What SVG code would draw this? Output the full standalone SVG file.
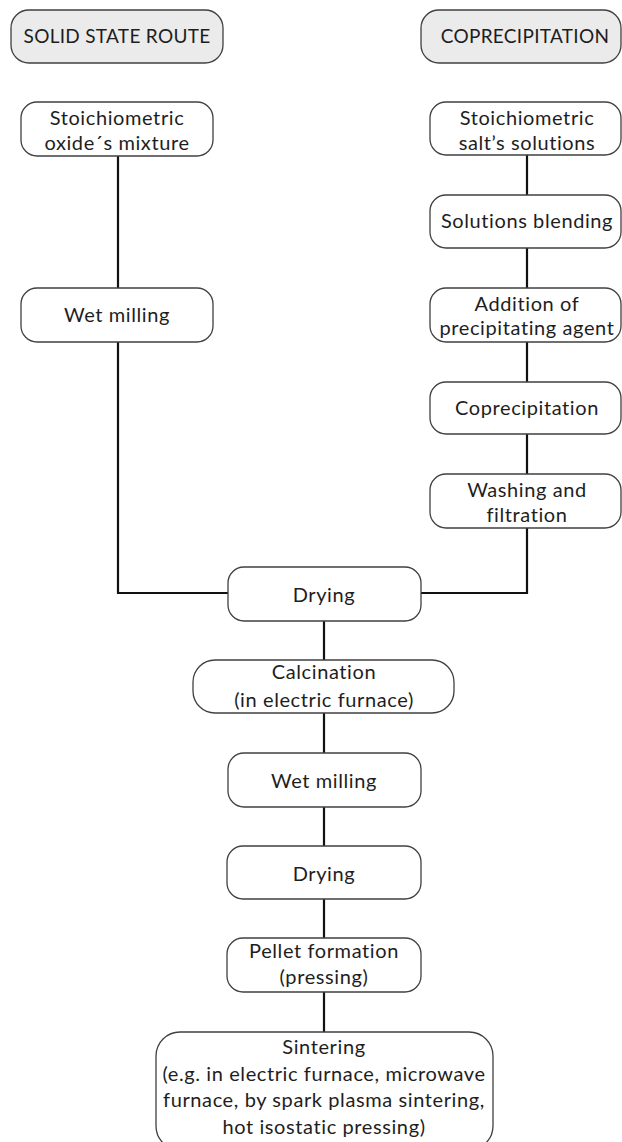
<svg xmlns="http://www.w3.org/2000/svg" width="622" height="1142" viewBox="0 0 622 1142">
<style>
.box{fill:#ffffff;stroke:#404040;stroke-width:1.3}
.hdr{fill:#ebebeb;stroke:#404040;stroke-width:1.3}
.t{font-family:Lato,"Open Sans","Liberation Sans",sans-serif;font-size:20px;letter-spacing:0.6px;fill:#1e1e1e;text-anchor:middle}
.h{font-size:19px;letter-spacing:0.3px}
.c{fill:none;stroke:#111;stroke-width:2.2}
</style>
<rect width="622" height="1142" fill="#ffffff"/>
<g id="connectors">
<path class="c" d="M118 156V288M118 342V593H228"/>
<path class="c" d="M527 155V195M527 248V288M527 342V382M527 434V474M527 528V593H421"/>
<path class="c" d="M324 621V660M324 713V753M324 807V846M324 899V938M324 992V1032"/>
</g>
<g id="hdr-solid"><rect class="hdr" x="11" y="10" width="212" height="53" rx="18"/><text class="t h" x="117" y="43">SOLID STATE ROUTE</text></g>
<g id="hdr-coprec"><rect class="hdr" x="421" y="10" width="200" height="53" rx="18"/><text class="t h" x="525" y="43">COPRECIPITATION</text></g>
<g id="oxide-mix"><rect class="box" x="21" y="102" width="192" height="54" rx="16"/><text class="t" x="117" y="125">Stoichiometric</text><text class="t" x="117" y="150">oxide´s mixture</text></g>
<g id="wet-milling-1"><rect class="box" x="21" y="288" width="192" height="54" rx="16"/><text class="t" x="117" y="322">Wet milling</text></g>
<g id="salt-sol"><rect class="box" x="430" y="102" width="191" height="53" rx="16"/><text class="t" x="527" y="125">Stoichiometric</text><text class="t" x="527" y="150">salt’s solutions</text></g>
<g id="blending"><rect class="box" x="430" y="195" width="191" height="53" rx="16"/><text class="t" x="527" y="228">Solutions blending</text></g>
<g id="addition"><rect class="box" x="430" y="288" width="191" height="54" rx="16"/><text class="t" x="527" y="311">Addition of</text><text class="t" x="527" y="335">precipitating agent</text></g>
<g id="coprecipitation"><rect class="box" x="430" y="382" width="191" height="52" rx="16"/><text class="t" x="527" y="415">Coprecipitation</text></g>
<g id="washing"><rect class="box" x="430" y="474" width="191" height="54" rx="16"/><text class="t" x="527" y="497">Washing and</text><text class="t" x="527" y="522">filtration</text></g>
<g id="drying-1"><rect class="box" x="228" y="567" width="193" height="54" rx="16"/><text class="t" x="324" y="602">Drying</text></g>
<g id="calcination"><rect class="box" x="193" y="660" width="261" height="53" rx="22"/><text class="t" x="324" y="679">Calcination</text><text class="t" x="324" y="707">(in electric furnace)</text></g>
<g id="wet-milling-2"><rect class="box" x="228" y="753" width="193" height="54" rx="16"/><text class="t" x="324" y="788">Wet milling</text></g>
<g id="drying-2"><rect class="box" x="227" y="846" width="194" height="53" rx="16"/><text class="t" x="324" y="881">Drying</text></g>
<g id="pellet"><rect class="box" x="227" y="938" width="194" height="54" rx="16"/><text class="t" x="324" y="958">Pellet formation</text><text class="t" x="324" y="984">(pressing)</text></g>
<g id="sintering"><rect class="box" x="156" y="1032" width="337" height="118" rx="24"/><text class="t" x="324" y="1054">Sintering</text><text class="t" x="324" y="1081">(e.g. in electric furnace, microwave</text><text class="t" x="324" y="1107">furnace, by spark plasma sintering,</text><text class="t" x="324" y="1134">hot isostatic pressing)</text></g>
</svg>
